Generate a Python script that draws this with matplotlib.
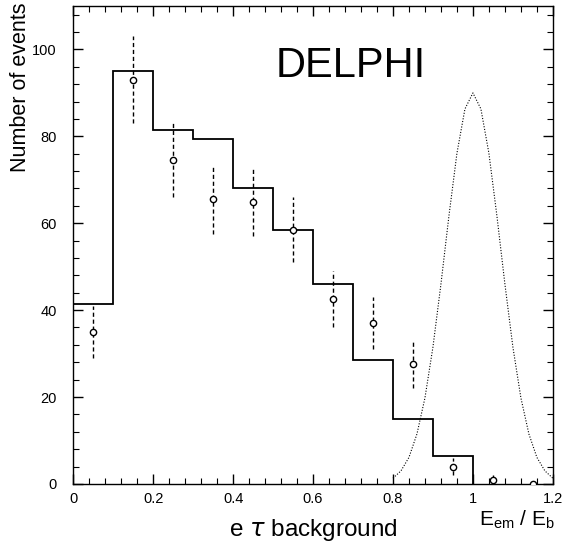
import matplotlib.pyplot as plt
import numpy as np

plt.rcParams['font.family'] = ['Liberation Sans', 'DejaVu Sans']

# histogram (background expectation), bins of 0.1 in E_em/E_b
bin_edges = [0.0, 0.1, 0.2, 0.3, 0.4, 0.5, 0.6, 0.7, 0.8, 0.9, 1.0]
bkg_counts = [41.5, 95, 81.5, 79.5, 68, 58.5, 46, 28.5, 15, 6.5]

# data points with errors
data_x = [0.05, 0.15, 0.25, 0.35, 0.45, 0.55, 0.65, 0.75, 0.85, 0.95, 1.05, 1.15]
data_y = [35, 93, 74.5, 65.5, 65, 58.5, 42.5, 37, 27.5, 4, 1, 0]
data_err = [6, 10, 8.5, 8, 8, 7.5, 6.5, 6, 5.5, 2, 1, 0]

# expected signal shape (dotted)
sig_x = [0.80, 0.82, 0.84, 0.86, 0.88, 0.90, 0.92, 0.94, 0.96, 0.98, 1.00,
         1.02, 1.04, 1.06, 1.08, 1.10, 1.12, 1.14, 1.16, 1.18, 1.20]
sig_y = [1.3, 3.0, 6.1, 11.5, 19.8, 31.5, 46.0, 61.7, 76.1, 86.3, 90.0,
         86.3, 76.1, 61.7, 46.0, 31.5, 19.8, 11.5, 6.1, 3.0, 1.3]

xticks = [0, 0.2, 0.4, 0.6, 0.8, 1.0, 1.2]
xticklabels = ['0', '0.2', '0.4', '0.6', '0.8', '1', '1.2']
yticks = [0, 20, 40, 60, 80, 100]

fig = plt.figure(figsize=(5.63, 5.48), dpi=100)
ax = fig.add_axes([0.130, 0.117, 0.852, 0.872])

ax.stairs(bkg_counts, bin_edges, color='black', linewidth=1.3, baseline=0)
eb = ax.errorbar(data_x, data_y, yerr=data_err, fmt='o', ms=4.5, mfc='white',
                 mec='black', mew=1.0, ecolor='black', elinewidth=1.0,
                 capsize=0, zorder=3)
eb[2][0].set_linestyle((0, (3, 2)))
ax.plot(sig_x, sig_y, color='black', linestyle=(0, (1, 1.5)), linewidth=0.8)

ax.set_xlim(0, 1.2)
ax.set_ylim(0, 110)
ax.set_xticks(xticks)
ax.set_xticklabels(xticklabels)
ax.set_yticks(yticks)
ax.set_xticks(np.arange(0, 1.2001, 0.04), minor=True)
ax.set_yticks(np.arange(0, 110.01, 4), minor=True)
ax.tick_params(which='both', direction='in', top=True, right=True,
               labelsize=10.5)
ax.tick_params(axis='y', pad=12)
ax.tick_params(axis='x', pad=6)
ax.tick_params(which='major', length=7, width=1)
ax.tick_params(which='minor', length=4, width=0.8)
for s in ax.spines.values():
    s.set_linewidth(1.0)

fig.text(0.036, 0.84, 'Number of events', fontsize=15.5, rotation=90,
         ha='center', va='center')
fig.text(0.556, 0.033, r'e $\tau$ background', fontsize=17.5,
         ha='center', va='center')
fig.text(0.918, 0.052, r'E$_{\mathregular{em}}$ / E$_{\mathregular{b}}$',
         fontsize=15, ha='center', va='center')
ax.text(0.421, 0.874, 'DELPHI', transform=ax.transAxes, fontsize=30,
        ha='left', va='center')

fig.savefig('out.png', dpi=100)
